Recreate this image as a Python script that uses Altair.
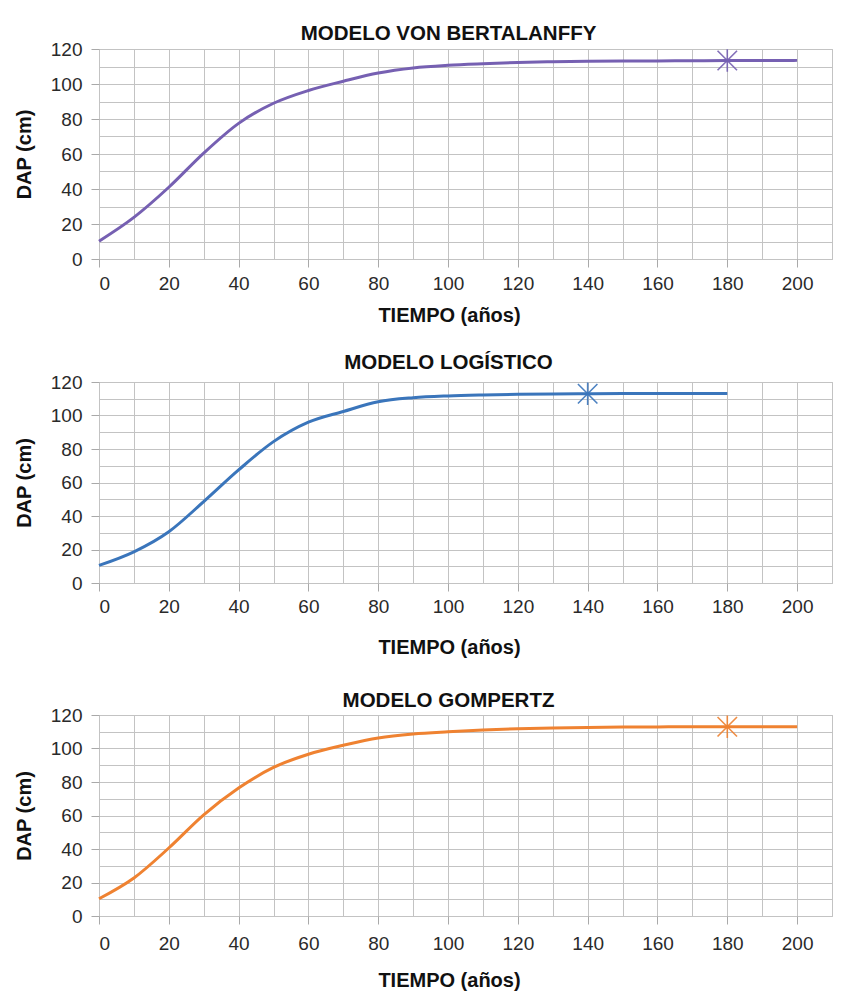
import altair as alt
import pandas as pd

# ---- data ----
years = [0, 10, 20, 30, 40, 50, 60, 70, 80, 90, 100, 110, 120, 130, 140, 150, 160, 170, 180, 190, 200]
years_log = [0, 10, 20, 30, 40, 50, 60, 70, 80, 90, 100, 110, 120, 130, 140, 150, 160, 170, 180]

bertalanffy = [10.2, 23.8, 41.0, 60.5, 77.5, 89.0, 96.3, 101.6, 106.3, 109.2, 110.7, 111.6, 112.3,
               112.7, 113.0, 113.1, 113.2, 113.3, 113.4, 113.4, 113.5]
logistico = [10.5, 18.6, 30.6, 48.6, 67.5, 84.4, 96.0, 102.4, 108.2, 110.6, 111.7, 112.3, 112.7,
             112.9, 113.0, 113.1, 113.1, 113.2, 113.2]
gompertz = [10.3, 22.7, 40.6, 60.4, 76.4, 88.7, 96.6, 101.9, 106.3, 108.7, 110.0, 111.0, 111.8,
            112.3, 112.6, 112.8, 112.9, 113.0, 113.0, 113.0, 113.0]

marker_year = [180, 140, 180]
marker_dap = [113.4, 113.0, 113.0]

titles = ["MODELO VON BERTALANFFY", "MODELO LOGÍSTICO", "MODELO GOMPERTZ"]
colors = ["#7660b2", "#3a75bb", "#ef8231"]

x_title = "TIEMPO (años)"
y_title = "DAP (cm)"
x_grid = list(range(0, 211, 10))
y_grid = list(range(0, 121, 10))

FONT = "Liberation Sans"
STAR = "M-1,-1L1,1M-1,1L1,-1M0,-1.15L0,1.15"


def tick_cond():
    return {"condition": {"test": "datum.value % 20 === 0", "value": "#a9a9a9"},
            "value": "transparent"}


def panel(xs, ys, my, mdap, title, color, height, title_offset, label_pad, title_pad):
    df = pd.DataFrame({"t": xs, "dap": ys})
    mk = pd.DataFrame({"t": [my], "dap": [mdap]})
    xaxis = alt.Axis(
        title=x_title,
        values=x_grid,
        labelExpr="datum.value % 20 === 0 ? datum.label : ''",
        tickColor=tick_cond(),
        labelPadding=label_pad,
        titlePadding=title_pad,
        titleX=350,
    )
    yaxis = alt.Axis(
        title=y_title,
        values=y_grid,
        labelExpr="datum.value % 20 === 0 ? datum.label : ''",
        tickColor=tick_cond(),
        labelPadding=9,
        titlePadding=16,
    )
    xscale = alt.Scale(domain=[0, 210], nice=False, zero=True)
    yscale = alt.Scale(domain=[0, 120], nice=False)
    line = alt.Chart(df).mark_line(
        interpolate="monotone", strokeWidth=3, color=color
    ).encode(
        x=alt.X("t:Q", scale=xscale, axis=xaxis),
        y=alt.Y("dap:Q", scale=yscale, axis=yaxis),
    )
    star = alt.Chart(mk).mark_point(
        shape=STAR, size=380, filled=False, strokeWidth=1.6, color=color, opacity=0.9
    ).encode(
        x=alt.X("t:Q", scale=xscale, axis=xaxis),
        y=alt.Y("dap:Q", scale=yscale, axis=yaxis),
    )
    return alt.layer(line, star).properties(
        width=733,
        height=height,
        title=alt.TitleParams(
            text=title, fontSize=20.5, fontWeight="bold", font=FONT, color="#111111",
            offset=title_offset, dx=-17, anchor="middle",
        ),
    )


c1 = panel(years, bertalanffy, marker_year[0], marker_dap[0], titles[0], colors[0], 210, -4, 7, 12)
c2 = panel(years_log, logistico, marker_year[1], marker_dap[1], titles[1], colors[1], 201, 0, 6, 21)
c3 = panel(years, gompertz, marker_year[2], marker_dap[2], titles[2], colors[2], 201, -5, 10, 17)

chart = alt.vconcat(alt.vconcat(c1, c2, spacing=26), c3, spacing=32).properties(
    padding={"left": 5, "top": 15, "right": 5, "bottom": 0},
    background="white",
).configure_view(
    stroke="#bdbdbd", strokeWidth=1
).configure_axis(
    grid=True,
    gridColor="#c3c3c3",
    gridWidth=1,
    domain=False,
    tickSize=8,
    tickWidth=1,
    labelFont=FONT,
    labelFontSize=19,
    labelColor="#2a2a2a",
    titleFont=FONT,
    titleFontSize=20,
    titleFontWeight="bold",
    titleColor="#111111",
)

chart.save("out.html", embed_options={"renderer": "svg", "actions": False})
